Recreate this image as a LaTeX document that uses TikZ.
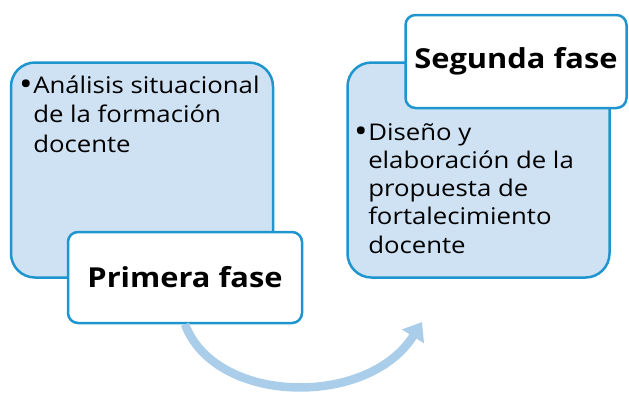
\documentclass[tikz,border=0pt]{standalone}
\usepackage{fontspec}
\setmainfont{Open Sans}[FakeStretch=1.12]
\usetikzlibrary{arrows.meta}
\definecolor{boxfill}{HTML}{CFE2F3}
\definecolor{boxline}{HTML}{1E95CE}
\definecolor{arrowc}{HTML}{AACDE9}
\newcommand{\bigbul}{\raisebox{-2pt}{\scalebox{1.4}{\textbullet}}}
\tikzset{
  phasebox/.style={draw=boxline, fill=boxfill, line width=2.5pt, rounded corners=24pt,
    minimum width=262pt, minimum height=215pt, inner sep=0pt},
  titlebox/.style={draw=boxline, fill=white, line width=2.5pt, rounded corners=10pt,
    inner sep=0pt, font=\fontsize{27.5}{32}\selectfont\bfseries},
  bodytext/.style={anchor=base west, inner sep=0pt},
  flowarrow/.style={draw=arrowc, line width=8.5pt, -{Triangle[width=25pt,length=17pt]}}
}
\begin{document}
\begin{tikzpicture}[x=1pt,y=-1pt]
\path[use as bounding box] (0,0) rectangle (629,392);
\node[phasebox] (b1) at (142,170) {};
\node[phasebox] (b2) at (478.5,170) {};
\node[bodytext, font=\fontsize{23}{29.5}\selectfont] (t1text) at (19,93) {\begin{tabular}[t]{@{}l@{\hspace{0.5pt}}l@{}}\bigbul&Análisis situacional\\&de la formación\\&docente\end{tabular}};
\node[bodytext, font=\fontsize{23}{28.3}\selectfont] (t2text) at (354,140) {\begin{tabular}[t]{@{}l@{\hspace{0.5pt}}l@{}}\bigbul&Diseño y\\&elaboración de la\\&propuesta de\\&fortalecimiento\\&docente\end{tabular}};
\coordinate (arrowend) at (422,322);
\node[titlebox, minimum width=234pt, minimum height=91pt] (h1) at (185,277.5) {Primera fase};
\draw[flowarrow] (h1.south) .. controls (215,405) and (368,408) .. (arrowend);
\node[titlebox, minimum width=221pt, minimum height=93pt] (h2) at (516,61.5) {Segunda fase};
\end{tikzpicture}
\end{document}
